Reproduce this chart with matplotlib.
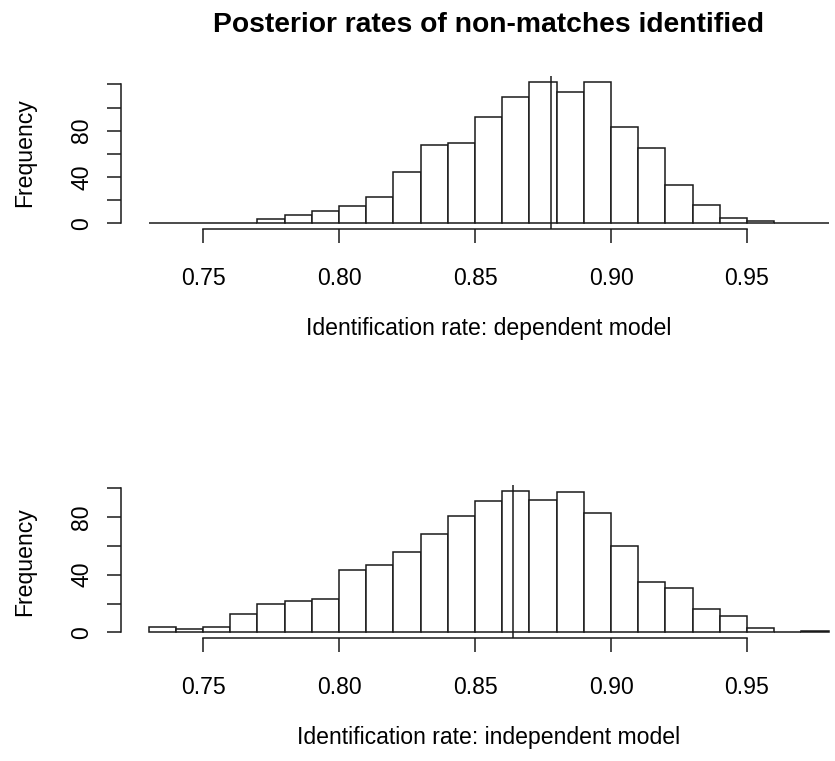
import matplotlib
matplotlib.use("Agg")
import matplotlib.pyplot as plt
import numpy as np

plt.rcParams['font.family'] = ['Liberation Sans', 'DejaVu Sans']

# histogram data (bins of width 0.01)
bin_edges = [0.73, 0.74, 0.75, 0.76, 0.77, 0.78, 0.79, 0.80, 0.81, 0.82, 0.83,
             0.84, 0.85, 0.86, 0.87, 0.88, 0.89, 0.90, 0.91, 0.92, 0.93, 0.94,
             0.95, 0.96, 0.97, 0.98]
dep_counts = [0, 0, 0, 0, 4, 7, 11, 15, 23, 44, 68, 69, 92, 109, 122, 113, 122,
              83, 65, 33, 16, 5, 2, 0, 0]
ind_counts = [4, 2, 4, 13, 20, 22, 23, 43, 47, 56, 68, 81, 91, 98, 92, 97, 83,
              60, 35, 31, 16, 11, 3, 0, 1]
dep_mean = 0.878
ind_mean = 0.864

x_ticks = [0.75, 0.80, 0.85, 0.90, 0.95]
x_tick_labels = ['0.75', '0.80', '0.85', '0.90', '0.95']
dep_yticks = [0, 20, 40, 60, 80, 100, 120]
ind_yticks = [0, 20, 40, 60, 80, 100]
ytick_labels_shown = ['0', '40', '80']

title = 'Posterior rates of non-matches identified'
dep_xlabel = 'Identification rate: dependent model'
ind_xlabel = 'Identification rate: independent model'

W, H = 835, 761
fig = plt.figure(figsize=(W / 100, H / 100), dpi=100)

lw = 1.1
ink = '#1a1a1a'
fs = 16.6
PX = 72 / 100  # points per pixel


def add_ax(left, top, right, bottom):
    return fig.add_axes([left / W, 1 - bottom / H, (right - left) / W, (bottom - top) / H])


def draw_hist(ax, counts, mean_rate, yticks, xlabel):
    edges = np.array(bin_edges)
    ax.bar(edges[:-1], counts, width=np.diff(edges), align='edge',
           color='white', edgecolor=ink, linewidth=lw)
    ax.axvline(mean_rate, color=ink, linewidth=lw)

    # R-style 4% padding around data range
    span = edges[-1] - edges[0]
    ax.set_xlim(edges[0] - 0.04 * span, edges[-1] + 0.04 * span)
    top = max(counts)
    ax.set_ylim(-0.04 * top, 1.04 * top)

    ax.set_xticks(x_ticks)
    ax.set_xticklabels(x_tick_labels, fontsize=fs)
    ax.set_yticks(yticks)
    ax.set_yticklabels([str(t) if str(t) in ytick_labels_shown else '' for t in yticks],
                       rotation=90, va='center', fontsize=fs)
    ax.tick_params(axis='x', length=13.8 * PX, width=lw, color=ink, pad=23.9 * PX)
    ax.tick_params(axis='y', length=13.8 * PX, width=lw, color=ink, pad=14.6 * PX)

    for s in ['top', 'right']:
        ax.spines[s].set_visible(False)
    ax.spines['left'].set_bounds(yticks[0], yticks[-1])
    ax.spines['bottom'].set_bounds(x_ticks[0], x_ticks[-1])
    for s in ['left', 'bottom']:
        ax.spines[s].set_linewidth(lw)
        ax.spines[s].set_color(ink)

    ax.set_xlabel(xlabel, fontsize=fs)
    ax.xaxis.set_label_coords(0.5, -(316.7 - 229) / 152.6)
    ax.set_ylabel('Frequency', fontsize=fs)
    ax.yaxis.set_label_coords((36 - 121.4) / 734.4, 0.5)
    ax.patch.set_alpha(0)


ax1 = add_ax(121.4, 76.4, 855.8, 229)
draw_hist(ax1, dep_counts, dep_mean, dep_yticks, dep_xlabel)

ax2 = add_ax(121.4, 485.4, 855.8, 638)
draw_hist(ax2, ind_counts, ind_mean, ind_yticks, ind_xlabel)

fig.text(488.6 / W, 1 - 31.7 / H, title, ha='center', va='baseline',
         fontsize=20.3, fontweight='bold')

fig.savefig('out.png', dpi=100)
